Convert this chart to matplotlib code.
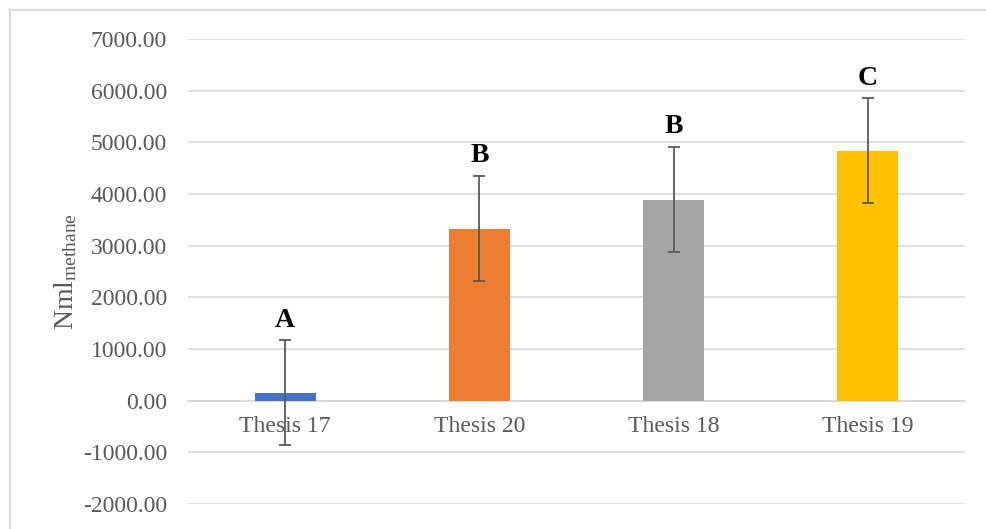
import matplotlib
matplotlib.use("Agg")
import matplotlib.pyplot as plt
from matplotlib.patches import Rectangle

# data
categories = ["Thesis 17", "Thesis 20", "Thesis 18", "Thesis 19"]
values = [150, 3330, 3890, 4835]
errors = [1015, 1015, 1015, 1015]
letters = ["A", "B", "B", "C"]
colors = ["#4472C4", "#ED7D31", "#A5A5A5", "#FFC000"]
yticks = list(range(-2000, 7001, 1000))

plt.rcParams["font.family"] = ["Liberation Serif", "DejaVu Serif"]
plt.rcParams["mathtext.fontset"] = "custom"
plt.rcParams["mathtext.rm"] = "Liberation Serif"
plt.rcParams["mathtext.it"] = "Liberation Serif:italic"

grey_txt = "#595959"
grid_col = "#d9d9d9"

fig = plt.figure(figsize=(9.87, 5.29), dpi=100)
ax = fig.add_axes([188 / 987, 1 - 504 / 529, 777 / 987, 465 / 529])

x = list(range(len(categories)))
ax.bar(x, values, width=0.315, color=colors, zorder=3)
ax.errorbar(x, values, yerr=errors, fmt="none", ecolor=grey_txt,
            elinewidth=1.3, capsize=4.5, capthick=1.3, zorder=4)

for xi, v, e, lab in zip(x, values, errors, letters):
    ax.annotate(lab, (xi, v + e), xytext=(0, 10), textcoords="offset points",
                ha="center", va="baseline", fontsize=20, fontweight="bold",
                color="black")

ax.set_xlim(-0.5, 3.5)
ax.set_ylim(-2000, 7000)
ax.set_yticks(yticks)
ax.set_yticklabels([f"{t:.2f}" for t in yticks])
ax.yaxis.grid(True, color=grid_col, linewidth=1.2, zorder=0)
ax.set_axisbelow(True)

ax.set_xticks(x)
ax.set_xticklabels(categories)
ax.spines["bottom"].set_position(("data", 0))
ax.spines["bottom"].set_color(grid_col)
ax.spines["bottom"].set_linewidth(1.2)
for s in ["left", "right", "top"]:
    ax.spines[s].set_visible(False)
ax.tick_params(axis="y", length=0, pad=15, labelsize=17, labelcolor=grey_txt)
ax.tick_params(axis="x", length=0, pad=11, labelsize=17, labelcolor=grey_txt)

ax.set_ylabel(r"Nml$_{\mathrm{methane}}$", fontsize=20, color=grey_txt, labelpad=3)

# light frame of the chart area
fig.patches.append(Rectangle((10 / 987, -0.1), 1.2, 1 - 10 / 529 + 0.1,
                             transform=fig.transFigure, fill=False,
                             edgecolor=grid_col, linewidth=1.5))

fig.savefig("out.png", dpi=100)
